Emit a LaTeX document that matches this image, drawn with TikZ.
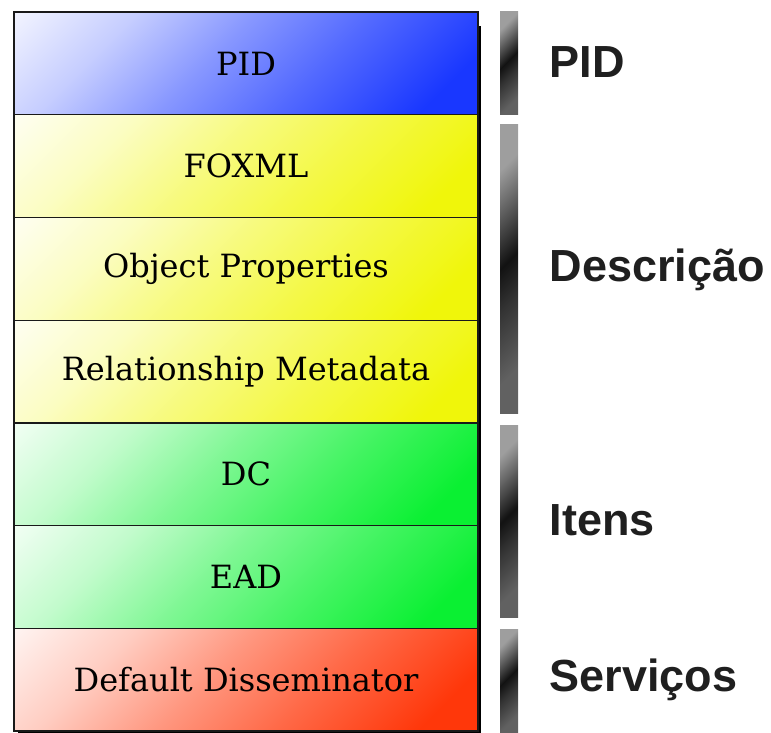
\documentclass[tikz,border=0pt]{standalone}
\usepackage{fontspec}
\newfontfamily\boxfont{DejaVu Serif}
\newfontfamily\sidefont{Liberation Sans}
\usetikzlibrary{positioning}

\definecolor{pidblue}{RGB}{25,55,255}
\definecolor{descyellow}{RGB}{240,246,10}
\definecolor{itemgreen}{RGB}{10,240,50}
\definecolor{servred}{RGB}{255,55,10}
\colorlet{layercol}{pidblue}

\pgfdeclareverticalshading[layercol]{layershade}{100bp}{color(0bp)=(layercol); color(22bp)=(layercol);
  color(40bp)=(layercol!75!white); color(55bp)=(layercol!52!white); color(70bp)=(layercol!25!white);
  color(85bp)=(layercol!6!white); color(100bp)=(white)}
\pgfdeclareverticalshading{metalbar}{100bp}{color(0bp)=(black!62); color(25bp)=(black!62);
  color(42bp)=(black!80); color(52bp)=(black!93); color(75bp)=(black!38); color(100bp)=(black!38)}

\begin{document}
\begin{tikzpicture}[x=1pt,y=-1pt,
    layer/.style={draw=black!90, line width=1.3pt, outer sep=0pt, inner sep=0pt,
        minimum width=464pt, minimum height=102.7pt,
        font=\boxfont\fontsize{32}{32}\selectfont,
        /utils/exec={\colorlet{layercol}{#1}}, shading=layershade, shading angle=45},
    bar/.style={outer sep=0pt, inner sep=0pt, minimum width=18pt,
        shading=metalbar, shading angle=45},
    group/.style={anchor=west, text=black!88,
        font=\sidefont\bfseries\fontsize{45}{45}\selectfont}]
    \useasboundingbox (0,0) rectangle (771,733);

    % shadow of the stack
    \fill[black] (478,26) rectangle (481,733);
    \fill[black] (18,731) rectangle (481,733);

    % the layers
    \node[layer=pidblue] (pid) at (246,63.5) {PID};
    \node[layer=descyellow, below=0pt of pid] (foxml) {FOXML};
    \node[layer=descyellow, below=0pt of foxml] (props) {Object Properties};
    \node[layer=descyellow, below=0pt of props] (rels) {Relationship Metadata};
    \node[layer=itemgreen, below=0pt of rels] (dc) {DC};
    \node[layer=itemgreen, below=0pt of dc] (ead) {EAD};
    \node[layer=servred, below=0pt of ead] (diss) {Default Disseminator};

    % bars and group names
    \node[bar, minimum height=103pt] (barpid) at (509,63.5) {};
    \node[bar, minimum height=288pt] (bardesc) at (509,269) {};
    \node[bar, minimum height=192pt] (baritem) at (509,521) {};
    \node[bar, minimum height=103pt] (barserv) at (509,680.5) {};

    \node[group] (gpid) at (546,62) {PID};
    \node[group] (gdesc) at (546,270) {Descrição};
    \node[group] (gitem) at (546,520) {Itens};
    \node[group] (gserv) at (546,680) {Serviços};
\end{tikzpicture}
\end{document}
